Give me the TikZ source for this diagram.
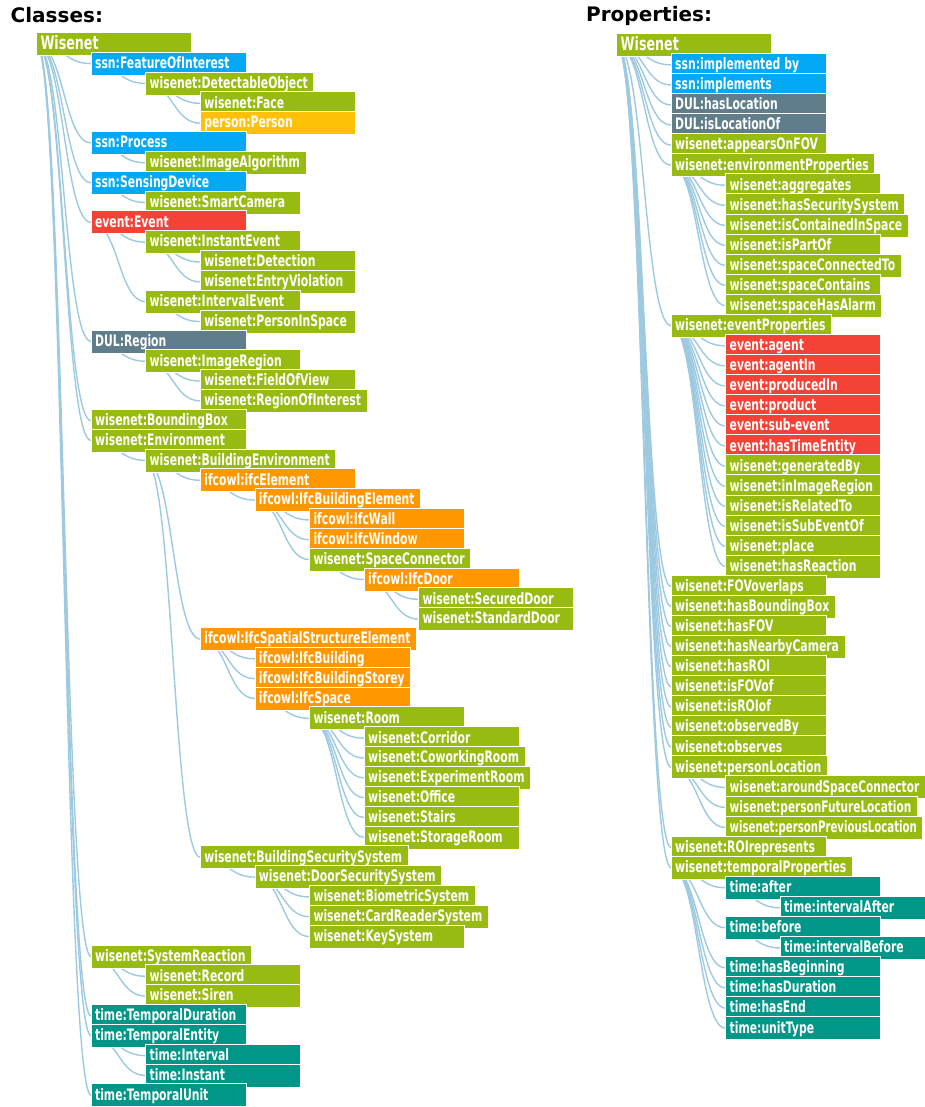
\documentclass[tikz,border=0pt]{standalone}
\usepackage{graphicx}
\usepackage{fontspec}
\newfontfamily\lblfont{DejaVu Sans}[FakeStretch=0.685]
\newfontfamily\ttlfont{DejaVu Sans}
\definecolor{cgreen}{RGB}{152,187,17}
\definecolor{cblue}{RGB}{3,169,244}
\definecolor{camber}{RGB}{255,193,7}
\definecolor{cred}{RGB}{244,67,54}
\definecolor{cgrey}{RGB}{96,125,139}
\definecolor{corange}{RGB}{255,152,0}
\definecolor{cteal}{RGB}{0,150,136}
\definecolor{clink}{RGB}{158,202,225}
\pgfdeclarelayer{bg}
\pgfsetlayers{bg,main}
\newcommand\lblbox[1]{\setbox0=\hbox{#1}\ifdim\wd0<145pt\hbox to 155pt{\kern4pt\box0\hfil}\else\hbox{\kern4pt\box0\kern6pt}\fi}
\tikzset{
  box/.style={rectangle, anchor=north west, inner sep=0pt, outer sep=0pt,
    text height=16.3pt, text depth=6.7pt, draw=white, line width=0.8pt,
    text=white, font=\lblfont\bfseries\fontsize{15.8}{16}\selectfont},
  rootbox/.style={box, text height=17.7pt, text depth=5.3pt,
    font=\lblfont\bfseries\fontsize{18.5}{20}\selectfont},
  link/.style={draw=clink, line width=1.4pt},
  ttl/.style={anchor=base west, inner sep=0pt, font=\ttlfont\bfseries\fontsize{20}{24}\selectfont}
}
\newcommand\CN[5]{\node[box,fill=#4] (#1) at ({36.5+54.6*#2},{32.3+19.84*#3}) {\lblbox{#5}};}
\newcommand\PN[5]{\node[box,fill=#4] (#1) at ({616.7+54.5*#2},{33.3+20.07*#3}) {\lblbox{#5}};}
\newcommand\LK[2]{\begin{pgfonlayer}{bg}\draw[link] (#1.west) .. controls +(27.3,0) and +(-27.3,0) .. (#2.west);\end{pgfonlayer}}
\begin{document}
\begin{tikzpicture}[x=1pt,y=-1pt]
\begin{pgfonlayer}{bg}
\fill[white] (0,0) rectangle (924,1107);
\end{pgfonlayer}
\useasboundingbox (0,0) rectangle (924,1107);
\node[ttl] (tc) at (10.5,23) {Classes:};
\node[ttl] (tp) at (586,22) {Properties:};
% ---------------- Classes ----------------
\node[rootbox,fill=cgreen] (c0) at (36.5,32.3) {\lblbox{Wisenet}};
\CN{c1}{1}{1}{cblue}{ssn:FeatureOfInterest}
\CN{c2}{2}{2}{cgreen}{wisenet:DetectableObject}
\CN{c3}{3}{3}{cgreen}{wisenet:Face}
\CN{c4}{3}{4}{camber}{person:Person}
\CN{c5}{1}{5}{cblue}{ssn:Process}
\CN{c6}{2}{6}{cgreen}{wisenet:ImageAlgorithm}
\CN{c7}{1}{7}{cblue}{ssn:SensingDevice}
\CN{c8}{2}{8}{cgreen}{wisenet:SmartCamera}
\CN{c9}{1}{9}{cred}{event:Event}
\CN{c10}{2}{10}{cgreen}{wisenet:InstantEvent}
\CN{c11}{3}{11}{cgreen}{wisenet:Detection}
\CN{c12}{3}{12}{cgreen}{wisenet:EntryViolation}
\CN{c13}{2}{13}{cgreen}{wisenet:IntervalEvent}
\CN{c14}{3}{14}{cgreen}{wisenet:PersonInSpace}
\CN{c15}{1}{15}{cgrey}{DUL:Region}
\CN{c16}{2}{16}{cgreen}{wisenet:ImageRegion}
\CN{c17}{3}{17}{cgreen}{wisenet:FieldOfView}
\CN{c18}{3}{18}{cgreen}{wisenet:RegionOfInterest}
\CN{c19}{1}{19}{cgreen}{wisenet:BoundingBox}
\CN{c20}{1}{20}{cgreen}{wisenet:Environment}
\CN{c21}{2}{21}{cgreen}{wisenet:BuildingEnvironment}
\CN{c22}{3}{22}{corange}{ifcowl:ifcElement}
\CN{c23}{4}{23}{corange}{ifcowl:IfcBuildingElement}
\CN{c24}{5}{24}{corange}{ifcowl:IfcWall}
\CN{c25}{5}{25}{corange}{ifcowl:IfcWindow}
\CN{c26}{5}{26}{cgreen}{wisenet:SpaceConnector}
\CN{c27}{6}{27}{corange}{ifcowl:IfcDoor}
\CN{c28}{7}{28}{cgreen}{wisenet:SecuredDoor}
\CN{c29}{7}{29}{cgreen}{wisenet:StandardDoor}
\CN{c30}{3}{30}{corange}{ifcowl:IfcSpatialStructureElement}
\CN{c31}{4}{31}{corange}{ifcowl:IfcBuilding}
\CN{c32}{4}{32}{corange}{ifcowl:IfcBuildingStorey}
\CN{c33}{4}{33}{corange}{ifcowl:IfcSpace}
\CN{c34}{5}{34}{cgreen}{wisenet:Room}
\CN{c35}{6}{35}{cgreen}{wisenet:Corridor}
\CN{c36}{6}{36}{cgreen}{wisenet:CoworkingRoom}
\CN{c37}{6}{37}{cgreen}{wisenet:ExperimentRoom}
\CN{c38}{6}{38}{cgreen}{wisenet:Office}
\CN{c39}{6}{39}{cgreen}{wisenet:Stairs}
\CN{c40}{6}{40}{cgreen}{wisenet:StorageRoom}
\CN{c41}{3}{41}{cgreen}{wisenet:BuildingSecuritySystem}
\CN{c42}{4}{42}{cgreen}{wisenet:DoorSecuritySystem}
\CN{c43}{5}{43}{cgreen}{wisenet:BiometricSystem}
\CN{c44}{5}{44}{cgreen}{wisenet:CardReaderSystem}
\CN{c45}{5}{45}{cgreen}{wisenet:KeySystem}
\CN{c46}{1}{46}{cgreen}{wisenet:SystemReaction}
\CN{c47}{2}{47}{cgreen}{wisenet:Record}
\CN{c48}{2}{48}{cgreen}{wisenet:Siren}
\CN{c49}{1}{49}{cteal}{time:TemporalDuration}
\CN{c50}{1}{50}{cteal}{time:TemporalEntity}
\CN{c51}{2}{51}{cteal}{time:Interval}
\CN{c52}{2}{52}{cteal}{time:Instant}
\CN{c53}{1}{53}{cteal}{time:TemporalUnit}
% ---------------- Properties ----------------
\node[rootbox,fill=cgreen] (p0) at (616.7,33.3) {\lblbox{Wisenet}};
\PN{p1}{1}{1}{cblue}{ssn:implemented by}
\PN{p2}{1}{2}{cblue}{ssn:implements}
\PN{p3}{1}{3}{cgrey}{DUL:hasLocation}
\PN{p4}{1}{4}{cgrey}{DUL:isLocationOf}
\PN{p5}{1}{5}{cgreen}{wisenet:appearsOnFOV}
\PN{p6}{1}{6}{cgreen}{wisenet:environmentProperties}
\PN{p7}{2}{7}{cgreen}{wisenet:aggregates}
\PN{p8}{2}{8}{cgreen}{wisenet:hasSecuritySystem}
\PN{p9}{2}{9}{cgreen}{wisenet:isContainedInSpace}
\PN{p10}{2}{10}{cgreen}{wisenet:isPartOf}
\PN{p11}{2}{11}{cgreen}{wisenet:spaceConnectedTo}
\PN{p12}{2}{12}{cgreen}{wisenet:spaceContains}
\PN{p13}{2}{13}{cgreen}{wisenet:spaceHasAlarm}
\PN{p14}{1}{14}{cgreen}{wisenet:eventProperties}
\PN{p15}{2}{15}{cred}{event:agent}
\PN{p16}{2}{16}{cred}{event:agentIn}
\PN{p17}{2}{17}{cred}{event:producedIn}
\PN{p18}{2}{18}{cred}{event:product}
\PN{p19}{2}{19}{cred}{event:sub-event}
\PN{p20}{2}{20}{cred}{event:hasTimeEntity}
\PN{p21}{2}{21}{cgreen}{wisenet:generatedBy}
\PN{p22}{2}{22}{cgreen}{wisenet:inImageRegion}
\PN{p23}{2}{23}{cgreen}{wisenet:isRelatedTo}
\PN{p24}{2}{24}{cgreen}{wisenet:isSubEventOf}
\PN{p25}{2}{25}{cgreen}{wisenet:place}
\PN{p26}{2}{26}{cgreen}{wisenet:hasReaction}
\PN{p27}{1}{27}{cgreen}{wisenet:FOVoverlaps}
\PN{p28}{1}{28}{cgreen}{wisenet:hasBoundingBox}
\PN{p29}{1}{29}{cgreen}{wisenet:hasFOV}
\PN{p30}{1}{30}{cgreen}{wisenet:hasNearbyCamera}
\PN{p31}{1}{31}{cgreen}{wisenet:hasROI}
\PN{p32}{1}{32}{cgreen}{wisenet:isFOVof}
\PN{p33}{1}{33}{cgreen}{wisenet:isROIof}
\PN{p34}{1}{34}{cgreen}{wisenet:observedBy}
\PN{p35}{1}{35}{cgreen}{wisenet:observes}
\PN{p36}{1}{36}{cgreen}{wisenet:personLocation}
\PN{p37}{2}{37}{cgreen}{\scalebox{0.975}[1]{wisenet:aroundSpaceConnector}}
\PN{p38}{2}{38}{cgreen}{\scalebox{0.975}[1]{wisenet:personFutureLocation}}
\PN{p39}{2}{39}{cgreen}{\scalebox{0.94}[1]{wisenet:personPreviousLocation}}
\PN{p40}{1}{40}{cgreen}{wisenet:ROIrepresents}
\PN{p41}{1}{41}{cgreen}{wisenet:temporalProperties}
\PN{p42}{2}{42}{cteal}{time:after}
\PN{p43}{3}{43}{cteal}{time:intervalAfter}
\PN{p44}{2}{44}{cteal}{time:before}
\PN{p45}{3}{45}{cteal}{time:intervalBefore}
\PN{p46}{2}{46}{cteal}{time:hasBeginning}
\PN{p47}{2}{47}{cteal}{time:hasDuration}
\PN{p48}{2}{48}{cteal}{time:hasEnd}
\PN{p49}{2}{49}{cteal}{time:unitType}
% ---------------- Links ----------------
\foreach \c in {c1,c5,c7,c9,c15,c19,c20,c46,c49,c50,c53} {\LK{c0}{\c}}
\LK{c1}{c2}
\foreach \c in {c3,c4} {\LK{c2}{\c}}
\LK{c5}{c6}
\LK{c7}{c8}
\foreach \c in {c10,c13} {\LK{c9}{\c}}
\foreach \c in {c11,c12} {\LK{c10}{\c}}
\LK{c13}{c14}
\LK{c15}{c16}
\foreach \c in {c17,c18} {\LK{c16}{\c}}
\LK{c20}{c21}
\foreach \c in {c22,c30,c41} {\LK{c21}{\c}}
\LK{c22}{c23}
\foreach \c in {c24,c25,c26} {\LK{c23}{\c}}
\LK{c26}{c27}
\foreach \c in {c28,c29} {\LK{c27}{\c}}
\foreach \c in {c31,c32,c33} {\LK{c30}{\c}}
\LK{c33}{c34}
\foreach \c in {c35,c36,c37,c38,c39,c40} {\LK{c34}{\c}}
\LK{c41}{c42}
\foreach \c in {c43,c44,c45} {\LK{c42}{\c}}
\foreach \c in {c47,c48} {\LK{c46}{\c}}
\foreach \c in {c51,c52} {\LK{c50}{\c}}
\foreach \c in {p1,p2,p3,p4,p5,p6,p14,p27,p28,p29,p30,p31,p32,p33,p34,p35,p36,p40,p41} {\LK{p0}{\c}}
\foreach \c in {p7,p8,p9,p10,p11,p12,p13} {\LK{p6}{\c}}
\foreach \c in {p15,p16,p17,p18,p19,p20,p21,p22,p23,p24,p25,p26} {\LK{p14}{\c}}
\foreach \c in {p37,p38,p39} {\LK{p36}{\c}}
\foreach \c in {p42,p44,p46,p47,p48,p49} {\LK{p41}{\c}}
\LK{p42}{p43}
\LK{p44}{p45}
\end{tikzpicture}
\end{document}
